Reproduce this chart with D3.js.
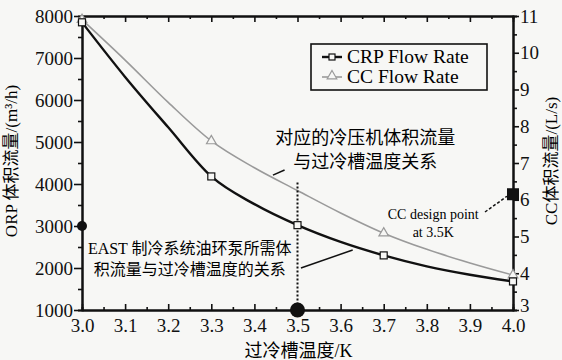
<!DOCTYPE html>
<html>
<head>
<meta charset="utf-8">
<script src="https://cdn.jsdelivr.net/npm/d3@7"></script>
<style>
  body { margin: 0; background: #f7f7f5; }
  svg { display: block; }
</style>
</head>
<body>
<div id="chart"></div>
<script>
const FONT = "'Liberation Serif', 'Noto Sans CJK SC', serif";

// sub-cooler temperature (K)
const temps = [3.0, 3.1, 3.2, 3.3, 3.4, 3.5, 3.6, 3.7, 3.8, 3.9, 4.0];
// CRP volume flow, m3/h (left axis)
const crpFlow = [7850, 6550, 5350, 4180, 3520, 3020, 2620, 2300, 2040, 1840, 1680];
// CC volume flow, L/s (right axis)
const ccFlow = [10.9, 9.8, 8.65, 7.6, 6.87, 6.25, 5.64, 5.09, 4.65, 4.28, 3.95];
const crpMarkT = [3.0, 3.3, 3.5, 3.7, 4.0];
const ccMarkT = [3.0, 3.3, 3.7, 4.0];
const xTicks = [3.0, 3.1, 3.2, 3.3, 3.4, 3.5, 3.6, 3.7, 3.8, 3.9, 4.0];
const leftTicks = [1000, 2000, 3000, 4000, 5000, 6000, 7000, 8000];
const rightTicks = [3, 4, 5, 6, 7, 8, 9, 10, 11];
const designT = 3.5;
const designCC = 6.15;
const oilPumpFlow = 3000;

const W = 562, H = 360;
const MARGIN = { top: 16, bottom: 50, left: 82, right: 49 };
const iw = W - MARGIN.left - MARGIN.right;
const ih = H - MARGIN.top - MARGIN.bottom;

const svg = d3.select("#chart").append("svg").attr("width", W).attr("height", H)
  .attr("font-family", FONT);
const g = svg.append("g").attr("transform", `translate(${MARGIN.left},${MARGIN.top})`);

const x = d3.scaleLinear().domain([3.0, 4.0]).range([0, iw]);
const yL = d3.scaleLinear().domain([1000, 8000]).range([ih, 0]);
const yR = d3.scaleLinear().domain([3, 11]).range([ih, 0]);

const minorX = d3.range(3.0, 4.001, 0.05).filter((v) => Math.abs(v * 10 - Math.round(v * 10)) > 0.01);
const minorL = d3.range(1500, 8000, 1000);
const minorR = d3.range(3.5, 11, 1);

const styleAxis = (sel) => {
  sel.attr("font-family", FONT);
  sel.select(".domain").attr("stroke", "#111").attr("stroke-width", 2);
  sel.selectAll(".tick line").attr("stroke", "#111").attr("stroke-width", 1.6);
  sel.selectAll("text").attr("font-size", 19).attr("fill", "#111").attr("font-family", FONT);
};

// minor ticks
g.append("g").attr("transform", `translate(0,${ih})`)
  .call(d3.axisBottom(x).tickValues(minorX).tickSize(-3).tickFormat(""))
  .call(styleAxis);
g.append("g")
  .call(d3.axisTop(x).tickValues(minorX).tickSize(-3).tickFormat(""))
  .call(styleAxis);
g.append("g").call(d3.axisLeft(yL).tickValues(minorL).tickSize(4).tickFormat("")).call(styleAxis);
g.append("g").attr("transform", `translate(${iw},0)`)
  .call(d3.axisRight(yR).tickValues(minorR).tickSize(4).tickFormat(""))
  .call(styleAxis);

// major axes
g.append("g").attr("transform", `translate(0,${ih})`)
  .call(d3.axisBottom(x).tickValues(xTicks).tickSizeInner(-6).tickSizeOuter(0).tickPadding(9).tickFormat(d3.format(".1f")))
  .call(styleAxis);
g.append("g")
  .call(d3.axisTop(x).tickValues(xTicks).tickSizeInner(-6).tickSizeOuter(0).tickFormat(""))
  .call(styleAxis);
g.append("g")
  .call(d3.axisLeft(yL).tickValues(leftTicks).tickSizeInner(8).tickSizeOuter(0).tickPadding(1).tickFormat(d3.format("d")))
  .call(styleAxis);
g.append("g").attr("transform", `translate(${iw},0)`)
  .call(d3.axisRight(yR).tickValues(rightTicks).tickSizeInner(6).tickSizeOuter(0).tickPadding(1))
  .call(styleAxis)
  .call((a) => a.selectAll("text").filter((d) => d === 3).attr("dy", "0.1em"));

// axis titles
g.append("text")
  .attr("x", iw / 2 + 1).attr("y", ih + 47)
  .attr("text-anchor", "middle").attr("font-size", 18)
  .text("过冷槽温度/K");
g.append("text")
  .attr("transform", `translate(${-65},${ih / 2 - 2}) rotate(-90)`)
  .attr("text-anchor", "middle").attr("font-size", 17)
  .text("ORP 体积流量/(m³/h)");
g.append("text")
  .attr("transform", `translate(${iw + 44},${ih / 2 - 2}) rotate(-90)`)
  .attr("text-anchor", "middle").attr("font-size", 17)
  .text("CC体积流量/(L/s)");

// curves
const crpData = temps.map((t, i) => ({ t, v: crpFlow[i] }));
const ccData = temps.map((t, i) => ({ t, v: ccFlow[i] }));

g.append("path").datum(ccData)
  .attr("fill", "none").attr("stroke", "#9a9a9a").attr("stroke-width", 1.6)
  .attr("d", d3.line().x((d) => x(d.t)).y((d) => yR(d.v)).curve(d3.curveMonotoneX));
g.append("path").datum(crpData)
  .attr("fill", "none").attr("stroke", "#111").attr("stroke-width", 2.4)
  .attr("d", d3.line().x((d) => x(d.t)).y((d) => yL(d.v)).curve(d3.curveMonotoneX));

// dashed guide at design temperature
const ccAt = (t) => ccFlow[temps.findIndex((d) => Math.abs(d - t) < 1e-6)];
const crpAt = (t) => crpFlow[temps.findIndex((d) => Math.abs(d - t) < 1e-6)];
g.append("line")
  .attr("x1", x(designT)).attr("x2", x(designT))
  .attr("y1", yR(ccAt(designT)) - 8).attr("y2", ih)
  .attr("stroke", "#111").attr("stroke-width", 2).attr("stroke-dasharray", "2,2");

// markers
const tri = d3.symbol().type(d3.symbolTriangle).size(40);
g.selectAll(".ccMark").data(ccMarkT).join("path")
  .attr("transform", (t) => `translate(${x(t)},${yR(ccAt(t))})`)
  .attr("d", tri).attr("fill", "#f7f7f5").attr("stroke", "#9a9a9a").attr("stroke-width", 1.2);
g.selectAll(".crpMark").data(crpMarkT).join("rect")
  .attr("x", (t) => x(t) - 3.5).attr("y", (t) => yL(crpAt(t)) - 3.5)
  .attr("width", 7).attr("height", 7)
  .attr("fill", "#f7f7f5").attr("stroke", "#111").attr("stroke-width", 1.2);

// highlighted points
g.append("circle").attr("cx", x(designT)).attr("cy", ih).attr("r", 7.5).attr("fill", "#111");
g.append("circle").attr("cx", 0).attr("cy", yL(oilPumpFlow)).attr("r", 5).attr("fill", "#111");
g.append("rect")
  .attr("x", iw - 6).attr("y", yR(designCC) - 6)
  .attr("width", 12).attr("height", 12).attr("fill", "#111");

// annotations
const ann1 = g.append("text").attr("text-anchor", "middle").attr("font-size", 18);
ann1.append("tspan").attr("x", x(3.657)).attr("y", 128).text("对应的冷压机体积流量");
ann1.append("tspan").attr("x", x(3.657)).attr("y", 152).text("与过冷槽温度关系");
g.append("line")
  .attr("x1", x(3.443)).attr("y1", yR(6.67)).attr("x2", x(3.47)).attr("y2", yR(6.81))
  .attr("stroke", "#111").attr("stroke-width", 1.5);

const ann2 = g.append("text").attr("text-anchor", "middle").attr("font-size", 16);
ann2.append("tspan").attr("x", x(3.25)).attr("y", 238).text("EAST 制冷系统油环泵所需体");
ann2.append("tspan").attr("x", x(3.25)).attr("y", 259).text("积流量与过冷槽温度的关系");
g.append("line")
  .attr("x1", x(3.508)).attr("y1", 252).attr("x2", x(3.628)).attr("y2", 234)
  .attr("stroke", "#111").attr("stroke-width", 1.5);

const ann3 = g.append("text").attr("text-anchor", "middle").attr("font-size", 14);
ann3.append("tspan").attr("x", x(3.815)).attr("y", 203).text("CC design point");
ann3.append("tspan").attr("x", x(3.815)).attr("y", 221).text("at 3.5K");
g.append("line")
  .attr("x1", x(3.935)).attr("y1", 196).attr("x2", iw - 6).attr("y2", yR(designCC) + 2)
  .attr("stroke", "#111").attr("stroke-width", 1.5).attr("stroke-dasharray", "3,2");

// legend
const lg = g.append("g").attr("transform", `translate(${311 - MARGIN.left},${44 - MARGIN.top})`);
lg.append("rect").attr("width", 176).attr("height", 46)
  .attr("fill", "#f7f7f5").attr("stroke", "#111").attr("stroke-width", 1.6);
lg.append("line").attr("x1", 11).attr("x2", 31).attr("y1", 13).attr("y2", 13)
  .attr("stroke", "#111").attr("stroke-width", 2.4);
lg.append("rect").attr("x", 18).attr("y", 10).attr("width", 6).attr("height", 6)
  .attr("fill", "#f7f7f5").attr("stroke", "#111").attr("stroke-width", 1.2);
lg.append("line").attr("x1", 11).attr("x2", 31).attr("y1", 33).attr("y2", 33)
  .attr("stroke", "#9a9a9a").attr("stroke-width", 1.6);
lg.append("path").attr("transform", "translate(21,32)").attr("d", tri)
  .attr("fill", "#f7f7f5").attr("stroke", "#9a9a9a").attr("stroke-width", 1.2);
lg.append("text").attr("x", 36).attr("y", 19).attr("font-size", 19.5).text("CRP Flow Rate");
lg.append("text").attr("x", 36).attr("y", 39).attr("font-size", 19.5).text("CC Flow Rate");
</script>
</body>
</html>
